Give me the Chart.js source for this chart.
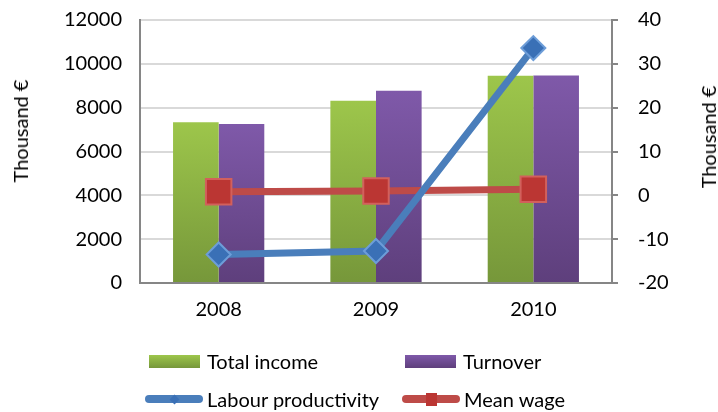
<!DOCTYPE html>
<html lang="en">
<head>
<meta charset="UTF-8">
<title>Income, turnover, productivity and wages</title>
<script src="https://cdn.jsdelivr.net/npm/chart.js"></script>
<style>
  body { margin: 0; background: #fff; font-family: Lato, "Open Sans", sans-serif; }
  #wrap { position: relative; width: 718px; height: 412px; }
  .axis-title { position: absolute; font-size: 20px; color: #000; white-space: nowrap;
                transform: translate(-50%, -50%) rotate(-90deg); }
  .item { position: absolute; display: flex; align-items: center; font-size: 20px; color: #000;
          transform: translateY(-50%); white-space: nowrap; }
  .box { width: 51px; height: 13px; margin-right: 7px; }
  .line { position: relative; width: 58px; height: 8px; border-radius: 4px; margin-right: 4px; }
  .mark { position: absolute; left: 50%; top: 50%; }
</style>
</head>
<body>
<div id="wrap">
  <canvas id="chart" width="718" height="412"></canvas>
  <div class="axis-title" style="left:20px; top:131px;">Thousand €</div>
  <div class="axis-title" style="left:708px; top:137px;">Thousand €</div>
  <div id="legend"></div>
</div>

<script>
// data
const years = ['2008', '2009', '2010'];
const seriesNames = ['Total income', 'Turnover', 'Labour productivity', 'Mean wage'];
const totalIncome = [7340, 8310, 9460];
const turnover = [7250, 8770, 9470];
const labourProductivity = [-13.5, -12.7, 33.6];
const meanWage = [0.8, 1.0, 1.4];

const green = ['#9DC64B', '#76973A'];
const purple = ['#7F59A9', '#5E3F7C'];
const blue = '#4A7EBB';
const red = '#BE4B48';

// per-bar vertical gradient like the original
function barGradient(cols) {
  return (c) => {
    const chart = c.chart;
    const y = chart.scales.y;
    if (!y || c.raw === undefined || !chart.chartArea) return cols[0];
    const g = chart.ctx.createLinearGradient(0, y.getPixelForValue(c.raw), 0, y.getPixelForValue(0));
    g.addColorStop(0, cols[0]);
    g.addColorStop(1, cols[1]);
    return g;
  };
}

const tickFont = { family: 'Lato', size: 20 };
const plain = (v) => String(v);
// fixed axis widths, and no extra room for the end labels
const fitTo = (w) => (s) => { s.width = w; s.paddingTop = 0; s.paddingBottom = 0; };

const chart = new Chart(document.getElementById('chart'), {
  data: {
    labels: years,
    datasets: [
      { type: 'bar', label: seriesNames[0], data: totalIncome, yAxisID: 'y',
        backgroundColor: barGradient(green), order: 2,
        categoryPercentage: 0.58, barPercentage: 1.0 },
      { type: 'bar', label: seriesNames[1], data: turnover, yAxisID: 'y',
        backgroundColor: barGradient(purple), order: 2,
        categoryPercentage: 0.58, barPercentage: 1.0 },
      { type: 'line', label: seriesNames[2], data: labourProductivity, yAxisID: 'y1',
        borderColor: blue, borderWidth: 7, order: 0,
        pointStyle: 'rectRot', pointRadius: 12, pointBorderWidth: 2,
        pointBackgroundColor: '#3A70B6', pointBorderColor: '#6D9DD8' },
      { type: 'line', label: seriesNames[3], data: meanWage, yAxisID: 'y1',
        borderColor: red, borderWidth: 7, order: 1,
        pointStyle: 'rect', pointRadius: 18, pointBorderWidth: 2,
        pointBackgroundColor: '#BB3633', pointBorderColor: '#D2605C' }
    ]
  },
  options: {
    responsive: false,
    animation: false,
    layout: { padding: { top: 20, bottom: 75, left: 0, right: 0 } },
    plugins: { legend: { display: false }, tooltip: { enabled: false } },
    scales: {
      x: {
        grid: { display: false, drawTicks: false },
        border: { color: '#868686', width: 2 },
        ticks: { color: '#000', font: tickFont, padding: 15 }
      },
      y: {
        position: 'left', min: 0, max: 12000,
        afterFit: fitTo(140),
        grid: { color: '#D9D9D9', lineWidth: 2, drawTicks: false },
        border: { color: '#868686', width: 2 },
        ticks: { stepSize: 2000, color: '#000', font: tickFont, padding: 18, callback: plain }
      },
      y1: {
        position: 'right', min: -20, max: 40,
        afterFit: fitTo(106),
        grid: { drawOnChartArea: false, color: '#868686', lineWidth: 2, tickLength: 6 },
        border: { color: '#868686', width: 2 },
        ticks: { stepSize: 10, color: '#000', font: tickFont, padding: 20, callback: plain }
      }
    }
  }
});

// legend in two columns, built from the datasets
const legendPos = [[149, 361], [405, 361], [145, 399], [402, 399]];
const legend = document.getElementById('legend');
chart.data.datasets.forEach((ds, i) => {
  const item = document.createElement('div');
  item.className = 'item';
  item.style.left = legendPos[i][0] + 'px';
  item.style.top = legendPos[i][1] + 'px';
  let sw;
  if (ds.type === 'bar') {
    const cols = i === 0 ? green : purple;
    sw = `<div class="box" style="background:linear-gradient(${cols[0]},${cols[1]})"></div>`;
  } else if (ds.pointStyle === 'rectRot') {
    sw = `<div class="line" style="background:${ds.borderColor}"><div class="mark" style="width:7px;height:7px;margin:-3.5px 0 0 -3.5px;transform:rotate(45deg);background:${ds.pointBackgroundColor}"></div></div>`;
  } else {
    sw = `<div class="line" style="background:${ds.borderColor}"><div class="mark" style="width:11px;height:13px;margin:-6.5px 0 0 -5.5px;background:${ds.pointBackgroundColor}"></div></div>`;
  }
  item.innerHTML = sw + `<span>${ds.label}</span>`;
  legend.appendChild(item);
});
</script>
</body>
</html>
